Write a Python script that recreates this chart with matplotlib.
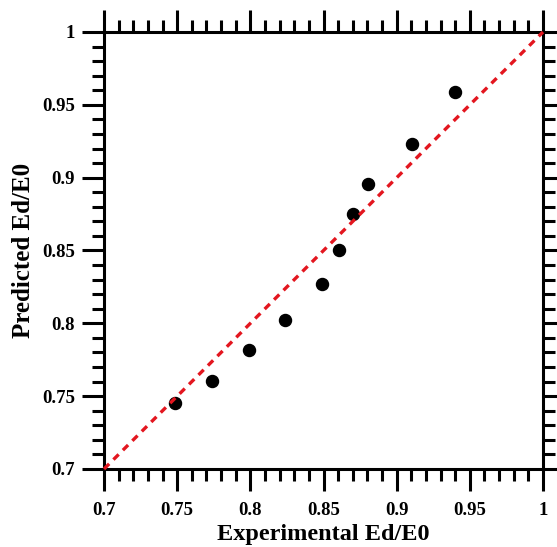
import numpy as np
import matplotlib.pyplot as plt
from matplotlib.ticker import MultipleLocator, FormatStrFormatter

# Experimental vs predicted Ed/E0
experimental = [0.7485, 0.7736, 0.799, 0.824, 0.8492, 0.8608, 0.8704, 0.8807, 0.9105, 0.9401]
predicted = [0.7456, 0.7607, 0.7817, 0.8023, 0.8268, 0.8504, 0.8749, 0.8957, 0.9229, 0.9586]

# 1:1 reference line
ref_line = [0.7, 1.0]

tick_vals = [0.7, 0.75, 0.8, 0.85, 0.9, 0.95, 1.0]
tick_labels = ['0.7', '0.75', '0.8', '0.85', '0.9', '0.95', '1']

plt.rcParams['font.family'] = ['Liberation Serif', 'DejaVu Serif']
plt.rcParams['font.weight'] = 'bold'

fig = plt.figure(figsize=(5.57, 5.47), dpi=100)
ax = fig.add_axes([0.1867, 0.1426, 0.9749 - 0.1867, 0.9415 - 0.1426])

ax.scatter(experimental, predicted, s=75, color='black', zorder=3, clip_on=False)
ax.plot(ref_line, ref_line, color='#e3161f', linewidth=2.4, dashes=(2.2, 1.8),
        zorder=4, clip_on=False)

ax.set_xlim(0.7, 1.0)
ax.set_ylim(0.7, 1.0)
ax.set_xticks(tick_vals)
ax.set_xticklabels(tick_labels)
ax.set_yticks(tick_vals)
ax.set_yticklabels(tick_labels)
ax.xaxis.set_minor_locator(MultipleLocator(0.01))
ax.yaxis.set_minor_locator(MultipleLocator(0.01))

for side in ax.spines.values():
    side.set_linewidth(2.2)

ax.tick_params(which='both', direction='out', top=True, right=True,
               width=2.2, labelsize=13.5, color='black')
ax.tick_params(which='major', length=16, pad=5)
ax.tick_params(which='minor', length=8.5)
ax.xaxis.set_tick_params(which='major', pad=8)

ax.set_xlabel('Experimental Ed/E0', fontsize=17.5, fontweight='bold', labelpad=3.5)
ax.set_ylabel('Predicted Ed/E0', fontsize=18, fontweight='bold', labelpad=5)

fig.savefig('out.png', dpi=100)
